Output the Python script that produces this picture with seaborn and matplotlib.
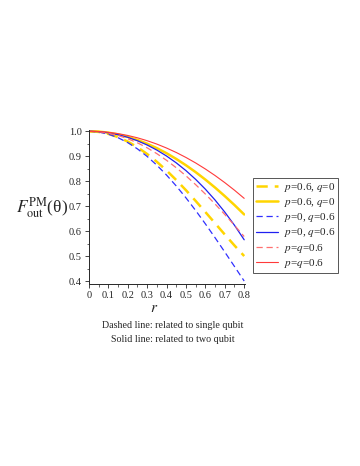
import pandas as pd
import seaborn as sns
import matplotlib.pyplot as plt
from matplotlib.ticker import MultipleLocator

# r values and the six fidelity curves
r = [0, 0.05, 0.1, 0.15, 0.2, 0.25, 0.3, 0.35, 0.4,
     0.45, 0.5, 0.55, 0.6, 0.65, 0.7, 0.75, 0.8]

yellow_dash = [1.0, 0.9974, 0.9895, 0.9766, 0.9587, 0.936, 0.9089, 0.8777, 0.8428,
               0.8046, 0.7638, 0.7208, 0.6764, 0.6313, 0.5863, 0.5423, 0.500]
yellow_solid = [1.0, 0.9986, 0.9944, 0.9874, 0.9777, 0.9652, 0.9501, 0.9323, 0.912,
                0.8891, 0.8638, 0.8362, 0.8063, 0.7743, 0.7402, 0.7043, 0.6666]
blue_dash = [1.0, 0.9971, 0.9885, 0.9743, 0.9545, 0.9294, 0.8992, 0.8641, 0.8245,
             0.7807, 0.7333, 0.6825, 0.629, 0.5734, 0.5162, 0.4582, 0.400]
blue_solid = [1.0, 0.9985, 0.994, 0.9864, 0.9758, 0.962, 0.945, 0.9246, 0.9008,
              0.8734, 0.8423, 0.8072, 0.7679, 0.7244, 0.6762, 0.6233, 0.5652]
pink_dash = [1.0, 0.9981, 0.9925, 0.9832, 0.9702, 0.9537, 0.9337, 0.9103, 0.8836,
             0.8539, 0.8214, 0.7861, 0.7484, 0.7085, 0.6666, 0.6231, 0.5782]
red_solid = [1.0, 0.999, 0.9958, 0.9906, 0.9832, 0.9738, 0.9622, 0.9486, 0.9328,
             0.915, 0.895, 0.873, 0.8488, 0.8226, 0.7942, 0.7638, 0.7312]

labels = ["$p$=0.6, $q$=0", "$p$=0.6, $q$=0", "$p$=0, $q$=0.6",
          "$p$=0, $q$=0.6", "$p$=$q$=0.6", "$p$=$q$=0.6"]

sns.set_style("ticks")
plt.rcParams["font.family"] = ["Liberation Serif", "DejaVu Serif"]
plt.rcParams["mathtext.fontset"] = "stix"

fig = plt.figure(figsize=(3.6, 4.66), dpi=100)
ax = fig.add_axes([0.247, 0.39, 0.434, 0.331])

series = [
    (yellow_dash, "#FFD500", 1.8, (0, (4.5, 2.8))),
    (yellow_solid, "#FFD500", 1.8, "-"),
    (blue_dash, "#3030FF", 0.9, (0, (5, 3))),
    (blue_solid, "#2020F0", 0.9, "-"),
    (pink_dash, "#FF7070", 0.9, (0, (5, 3))),
    (red_solid, "#FF3A3A", 0.8, "-"),
]
for (vals, col, lw, ls), lab in zip(series, labels):
    df = pd.DataFrame({"r": r, "F": vals})
    sns.lineplot(data=df, x="r", y="F", ax=ax, color=col, linewidth=lw,
                 linestyle=ls, label=lab)

ax.set_xlim(0, 0.805)
ax.set_ylim(0.387, 1.005)
sns.despine(ax=ax)
ax.spines["left"].set_linewidth(0.7)
ax.spines["bottom"].set_linewidth(0.7)
ax.xaxis.set_major_locator(MultipleLocator(0.1))
ax.xaxis.set_minor_locator(MultipleLocator(0.05))
ax.yaxis.set_major_locator(MultipleLocator(0.1))
ax.yaxis.set_minor_locator(MultipleLocator(0.05))
ax.set_xticks([0, 0.1, 0.2, 0.3, 0.4, 0.5, 0.6, 0.7, 0.8])
ax.set_xticklabels(["0", "0.1", "0.2", "0.3", "0.4", "0.5", "0.6", "0.7", "0.8"])
ax.tick_params(which="major", length=3, width=0.6, labelsize=7.5, pad=2)
ax.tick_params(which="minor", length=1.8, width=0.5)
ax.set_xlabel("")
ax.set_ylabel("")

fig.text(0.045, 0.555, r"$F_{\rm out}^{\rm PM}$(θ)", fontsize=12.5,
         ha="left", va="center")
fig.text(0.428, 0.338, "$r$", fontsize=11, ha="center", va="center")
fig.text(0.48, 0.302, "Dashed line: related to single qubit", fontsize=7.2,
         ha="center", va="center")
fig.text(0.48, 0.272, "Solid line: related to two qubit", fontsize=7.2,
         ha="center", va="center")

leg = ax.legend(loc="upper left", bbox_to_anchor=(253 / 360, 1 - 178 / 466),
                bbox_transform=fig.transFigure, borderaxespad=0,
                fontsize=8, handlelength=2.0, handletextpad=0.5,
                labelspacing=0.2, borderpad=0.25, fancybox=False,
                framealpha=1)
leg.get_frame().set_edgecolor("#555555")
leg.get_frame().set_linewidth(0.7)

fig.savefig("out.png", dpi=100)
